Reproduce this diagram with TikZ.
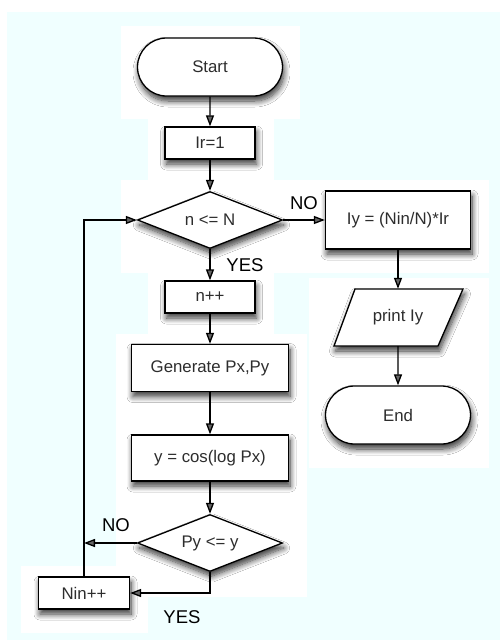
\documentclass[tikz,border=0pt]{standalone}
\usepackage{fontspec}
\setmainfont{Liberation Sans}
\usetikzlibrary{shapes.geometric,shapes.misc,arrows.meta,shadows.blur}
\definecolor{bgc}{RGB}{240,255,255}
\definecolor{txt}{RGB}{45,45,45}
\begin{document}
\begin{tikzpicture}[x=1pt,y=-1pt,
  shad/.style={blur shadow={shadow xshift=1.5pt,shadow yshift=-5pt,shadow blur radius=6pt,shadow blur steps=10,shadow opacity=80}},
  base/.style={draw=black,line width=1.3pt,fill=white,font=\fontsize{16.8}{19}\selectfont,text=txt,inner sep=0pt,shad},
  proc/.style={base,rectangle},
  term/.style={base,rounded rectangle,minimum width=145pt,minimum height=58pt},
  dec/.style={base,diamond,aspect=2.5,minimum width=145pt,minimum height=57pt},
  flow/.style={line width=1.3pt,-{Triangle[length=11pt,width=8pt]}},
  lbl/.style={font=\fontsize{18.5}{20}\selectfont,text=black,inner sep=0pt},
  patch/.style={fill=white,draw=none}]
\useasboundingbox (0,0) rectangle (500,640);
\fill[white] (0,0) rectangle (500,640);
\fill[bgc] (7,12) rectangle (500,640);
% white patches
\fill[patch] (121,26) rectangle (300,119);
\fill[patch] (148,119) rectangle (274,180);
\fill[patch] (121,180) rectangle (489,273);
\fill[patch] (148,273) rectangle (274,334);
\fill[patch] (309,278) rectangle (489,468);
\fill[patch] (116,334) rectangle (307,597);
\fill[patch] (21,566) rectangle (148,633);
% nodes
\node[term] (start) at (210,67) {Start};
\node[proc,minimum width=90pt,minimum height=32pt] (ir) at (210,143) {Ir=1};
\node[dec] (d1) at (210,220) {n <= N};
\node[proc,minimum width=145pt,minimum height=58pt] (iy) at (398,220) {Iy = (Nin/N)*Ir};
\node[proc,minimum width=90pt,minimum height=32pt] (npp) at (210,297) {n++};
\path[draw=black,line width=1.3pt,fill=white,shad] (355,289) -- (463,289) -- (438,346) -- (334,346) -- cycle;
\node[font=\fontsize{16.8}{19}\selectfont,text=txt,inner sep=0pt,minimum width=100pt,minimum height=57pt] (pr) at (398,317.5) {print Iy};
\node[term] (endn) at (398,415) {End};
\node[proc,minimum width=157pt,minimum height=47pt] (gen) at (210,368) {Generate Px,Py};
\node[proc,minimum width=157pt,minimum height=46pt] (cosn) at (210,458) {y = cos(log Px)};
\node[dec] (d2) at (210,543) {Py <= y};
\node[proc,minimum width=91pt,minimum height=32pt] (nin) at (84,593) {Nin++};
% connectors
\draw[flow] (start) -- (ir);
\draw[flow] (ir) -- (d1);
\draw[flow] (d1) -- (iy);
\draw[flow] (d1) -- (npp);
\draw[flow] (iy) -- (pr);
\draw[flow] (pr) -- (endn);
\draw[flow] (npp) -- (gen);
\draw[flow] (gen) -- (cosn);
\draw[flow] (cosn) -- (d2);
\coordinate (loopin) at (d2.west -| nin.north);
\draw[flow] (d2.west) -- (loopin);
\draw[flow] (d2.south) |- (nin.east);
\draw[flow] (nin.north) |- (d1.west);
% labels
\node[lbl] (no1) at (304,203) {NO};
\node[lbl] (yes1) at (245,265) {YES};
\node[lbl] (no2) at (116,525) {NO};
\node[lbl] (yes2) at (182,617) {YES};
\end{tikzpicture}
\end{document}
